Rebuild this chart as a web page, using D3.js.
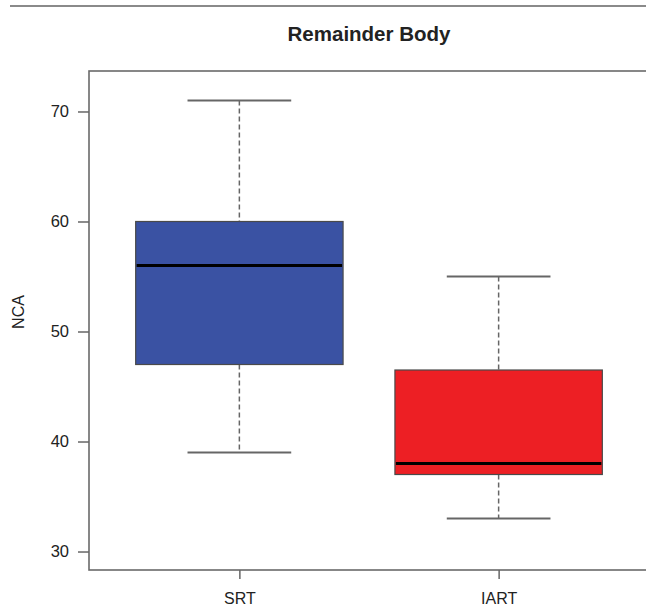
<!DOCTYPE html>
<html>
<head>
<meta charset="utf-8">
<script src="https://cdn.jsdelivr.net/npm/d3@7"></script>
<style>
  body { margin: 0; background: #fff; }
  text { font-family: "Liberation Sans", Arial, sans-serif; fill: #222; }
</style>
</head>
<body>
<svg width="646" height="608"></svg>
<script>
// box statistics
var groups = ["SRT", "IART"],
    lower  = [39, 33],
    q1     = [47, 37],
    median = [56, 38],
    q3     = [60, 46.5],
    upper  = [71, 55],
    colors = ["#3a52a3", "#ed1f24"];

var yTicks = [30, 40, 50, 60, 70];

var svg = d3.select("svg");

var x = d3.scaleLinear().domain([0.42, 2.58]).range([89, 649]),
    y = d3.scaleLinear().domain([28.32, 73.68]).range([570, 71]);

var boxW = x(1.8) - x(1),   // boxwex 0.8
    capW = boxW / 2;

// rule at the top of the figure
svg.append("line")
    .attr("x1", 10).attr("x2", 646)
    .attr("y1", 6).attr("y2", 6)
    .attr("stroke", "#8a8a8a")
    .attr("stroke-width", 2);

svg.append("text")
    .attr("x", (x.range()[0] + x.range()[1]) / 2)
    .attr("y", 41)
    .attr("text-anchor", "middle")
    .style("font-size", "20.5px")
    .style("font-weight", "bold")
    .text("Remainder Body");

// frame round the plot region
svg.append("rect")
    .attr("x", 89).attr("y", 71)
    .attr("width", 649 - 89).attr("height", 570 - 71)
    .attr("fill", "none")
    .attr("stroke", "#6a6a6a")
    .attr("stroke-width", 1.6);

var data = groups.map(function (g, i) {
    return { name: g, pos: i + 1, lo: lower[i], q1: q1[i], med: median[i], q3: q3[i], hi: upper[i], col: colors[i] };
});

var b = svg.selectAll(".box")
    .data(data)
    .enter().append("g")
    .attr("class", "box");

// whiskers
b.append("line")
    .attr("x1", d => x(d.pos)).attr("x2", d => x(d.pos))
    .attr("y1", d => y(d.hi)).attr("y2", d => y(d.q3))
    .attr("stroke", "#666").attr("stroke-width", 1.5)
    .attr("stroke-dasharray", "5,3");
b.append("line")
    .attr("x1", d => x(d.pos)).attr("x2", d => x(d.pos))
    .attr("y1", d => y(d.q1)).attr("y2", d => y(d.lo))
    .attr("stroke", "#666").attr("stroke-width", 1.5)
    .attr("stroke-dasharray", "5,3");

// caps
b.append("line")
    .attr("x1", d => x(d.pos) - capW / 2).attr("x2", d => x(d.pos) + capW / 2)
    .attr("y1", d => y(d.hi)).attr("y2", d => y(d.hi))
    .attr("stroke", "#666").attr("stroke-width", 2);
b.append("line")
    .attr("x1", d => x(d.pos) - capW / 2).attr("x2", d => x(d.pos) + capW / 2)
    .attr("y1", d => y(d.lo)).attr("y2", d => y(d.lo))
    .attr("stroke", "#666").attr("stroke-width", 2);

// boxes
b.append("rect")
    .attr("x", d => x(d.pos) - boxW / 2)
    .attr("y", d => y(d.q3))
    .attr("width", boxW)
    .attr("height", d => y(d.q1) - y(d.q3))
    .attr("fill", d => d.col)
    .attr("stroke", "#4a4a4a")
    .attr("stroke-width", 1.2);

// medians
b.append("line")
    .attr("x1", d => x(d.pos) - boxW / 2 + 1).attr("x2", d => x(d.pos) + boxW / 2 - 1)
    .attr("y1", d => y(d.med)).attr("y2", d => y(d.med))
    .attr("stroke", "#000").attr("stroke-width", 3.2);

// y axis
var ya = svg.append("g")
    .attr("transform", "translate(89,0)")
    .call(d3.axisLeft(y).tickValues(yTicks).tickSize(11).tickSizeOuter(0).tickPadding(9));
ya.select(".domain").remove();
ya.selectAll(".tick line").attr("stroke", "#666").attr("stroke-width", 1.5);
ya.selectAll("text").style("font-size", "16.5px").attr("fill", "#222")
    .style("font-family", "'Liberation Sans', Arial, sans-serif");

// x axis
var xa = svg.append("g")
    .attr("transform", "translate(0,570)")
    .call(d3.axisBottom(x).tickValues([1, 2]).tickFormat((d, i) => groups[i])
        .tickSize(9).tickPadding(14));
xa.select(".domain").remove();
xa.selectAll(".tick line").attr("stroke", "#666").attr("stroke-width", 1.5);
xa.selectAll("text").style("font-size", "16px").attr("fill", "#222")
    .style("font-family", "'Liberation Sans', Arial, sans-serif");

svg.append("text")
    .attr("transform", "translate(24,312) rotate(-90)")
    .attr("text-anchor", "middle")
    .style("font-size", "16px")
    .text("NCA");
</script>
</body>
</html>
